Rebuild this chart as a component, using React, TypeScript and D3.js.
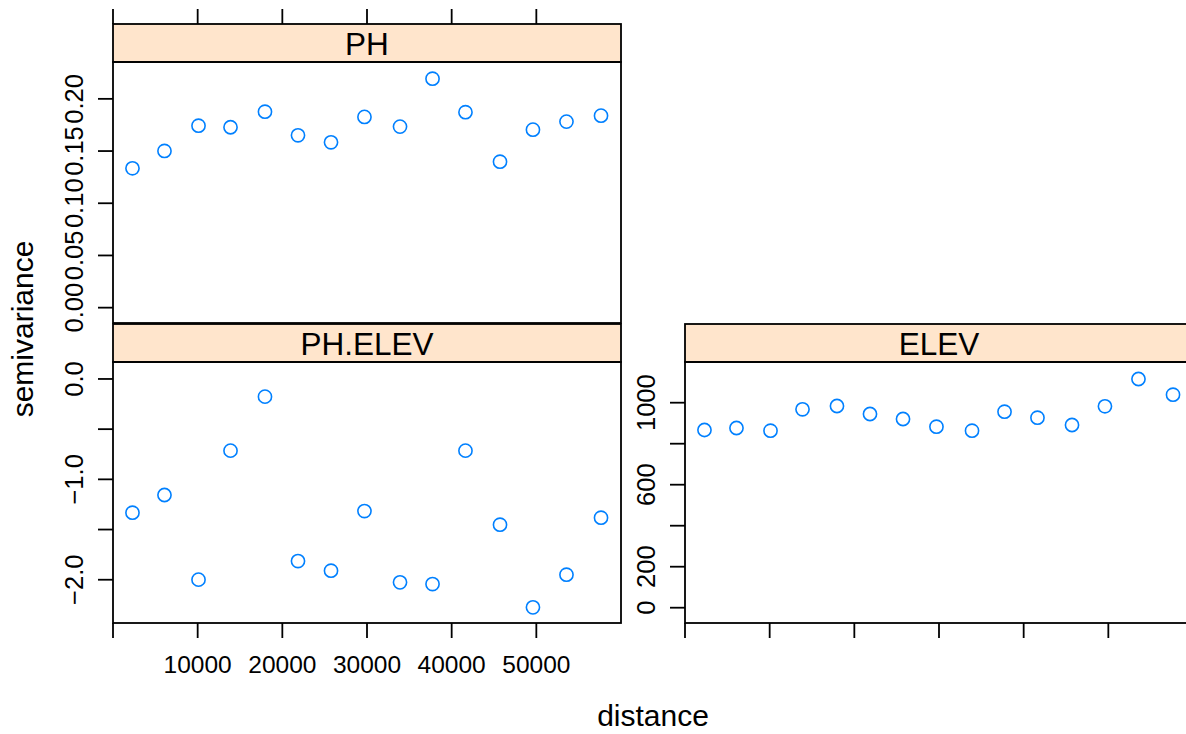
import React, { useEffect, useRef } from 'react';
import * as d3 from 'd3';

// lag distances (same bins for every panel)
const distance = [2300, 6080, 10100, 13880, 17950, 21850, 25750, 29700, 33900, 37740, 41630, 45710, 49600, 53560, 57640];

// semivariance per panel
const phGamma = [0.1335, 0.1501, 0.1743, 0.1728, 0.1877, 0.1651, 0.1584, 0.1827, 0.1734, 0.2193, 0.1872, 0.1398, 0.1705, 0.1782, 0.1839];
const phElevGamma = [-1.332, -1.156, -1.999, -0.714, -0.176, -1.814, -1.910, -1.316, -2.026, -2.043, -0.714, -1.452, -2.275, -1.950, -1.382];
const elevGamma = [866.8, 876.6, 863.4, 967.8, 983.9, 944.9, 920.5, 882.9, 863.4, 956.1, 926.8, 891.2, 982.4, 1115.6, 1039.0];

const xTicks = [0, 10000, 20000, 30000, 40000, 50000];
const xTickLabels = ["", "10000", "20000", "30000", "40000", "50000"];

const phTicks = [0, 0.05, 0.1, 0.15, 0.2];
const phTickLabels = ["0.00", "0.05", "0.10", "0.15", "0.20"];
const phElevTicks = [-2, -1.5, -1, -0.5, 0];
const phElevTickLabels = ["\u22122.0", "", "\u22121.0", "", "0.0"];
const elevTicks = [0, 200, 400, 600, 800, 1000];
const elevTickLabels = ["0", "200", "", "600", "", "1000"];

const W = 1186;
const H = 734;
const FONT = "'Liberation Sans', Arial, Helvetica, sans-serif";
const STRIP_H = 38;
const PANEL_W = 508;
const TICK = 15;

const App = () => {
    const svgRef = useRef(null);

    useEffect(() => {
        const svg = d3.select(svgRef.current);
        svg.selectAll("*").remove();

        const panels = [
            { name: "PH", y: phGamma, ticks: phTicks, labels: phTickLabels, dom: [-0.0147, 0.2353], left: 113, top: 24, topTicks: true, bottomTicks: false, xLabels: false },
            { name: "PH.ELEV", y: phElevGamma, ticks: phElevTicks, labels: phElevTickLabels, dom: [-2.431, 0.169], left: 113, top: 324, topTicks: false, bottomTicks: true, xLabels: true },
            { name: "ELEV", y: elevGamma, ticks: elevTicks, labels: elevTickLabels, dom: [-74.6, 1198.5], left: 685, top: 324, topTicks: false, bottomTicks: true, xLabels: false },
        ];

        panels.forEach(p => {
            const g = svg.append("g");
            const pTop = p.top + STRIP_H;
            const pBottom = p.top + STRIP_H + 261;
            const x = d3.scaleLinear().domain([0, 60000]).range([p.left, p.left + PANEL_W]);
            const y = d3.scaleLinear().domain(p.dom).range([pBottom, pTop]);

            // strip
            g.append("rect")
                .attr("x", p.left).attr("y", p.top)
                .attr("width", PANEL_W).attr("height", STRIP_H)
                .attr("fill", "#ffe5cc").attr("stroke", "#000").attr("stroke-width", 1.8);
            g.append("text")
                .attr("x", p.left + PANEL_W / 2).attr("y", p.top + 30.5)
                .attr("text-anchor", "middle")
                .attr("font-family", FONT).attr("font-size", 31.5)
                .text(p.name);

            // panel box
            g.append("rect")
                .attr("x", p.left).attr("y", pTop)
                .attr("width", PANEL_W).attr("height", pBottom - pTop)
                .attr("fill", "none").attr("stroke", "#000").attr("stroke-width", 1.8);

            // y axis
            g.selectAll(".yt").data(p.ticks).join("line")
                .attr("x1", p.left - TICK).attr("x2", p.left)
                .attr("y1", d => y(d)).attr("y2", d => y(d))
                .attr("stroke", "#000").attr("stroke-width", 1.8);
            g.selectAll(".yl").data(p.ticks).join("text")
                .attr("transform", d => `translate(${p.left - 30},${y(d)}) rotate(-90)`)
                .attr("text-anchor", "middle")
                .attr("font-family", FONT).attr("font-size", 25.5)
                .text((d, i) => p.labels[i]);

            // x ticks
            if (p.topTicks) {
                g.selectAll(".xtt").data(xTicks).join("line")
                    .attr("x1", d => x(d)).attr("x2", d => x(d))
                    .attr("y1", p.top - TICK).attr("y2", p.top)
                    .attr("stroke", "#000").attr("stroke-width", 1.8);
            }
            if (p.bottomTicks) {
                g.selectAll(".xtb").data(xTicks).join("line")
                    .attr("x1", d => x(d)).attr("x2", d => x(d))
                    .attr("y1", pBottom).attr("y2", pBottom + TICK)
                    .attr("stroke", "#000").attr("stroke-width", 1.8);
            }
            if (p.xLabels) {
                g.selectAll(".xl").data(xTicks).join("text")
                    .attr("x", d => x(d)).attr("y", pBottom + 50)
                    .attr("text-anchor", "middle")
                    .attr("font-family", FONT).attr("font-size", 24.5)
                    .text((d, i) => xTickLabels[i]);
            }

            // points
            g.selectAll("circle").data(p.y).join("circle")
                .attr("cx", (d, i) => x(distance[i]))
                .attr("cy", d => y(d))
                .attr("r", 6.6)
                .attr("fill", "none")
                .attr("stroke", "#0080ff")
                .attr("stroke-width", 1.6);
        });

        svg.append("text")
            .attr("x", 653).attr("y", 726)
            .attr("text-anchor", "middle")
            .attr("font-family", FONT).attr("font-size", 30)
            .text("distance");

        svg.append("text")
            .attr("transform", "translate(33,329) rotate(-90)")
            .attr("text-anchor", "middle")
            .attr("font-family", FONT).attr("font-size", 30)
            .text("semivariance");
    }, []);

    return (
        <svg ref={svgRef} width={W} height={H}
            style={{ position: "absolute", left: 0, top: 0, background: "#fff" }} />
    );
};

export default App;
